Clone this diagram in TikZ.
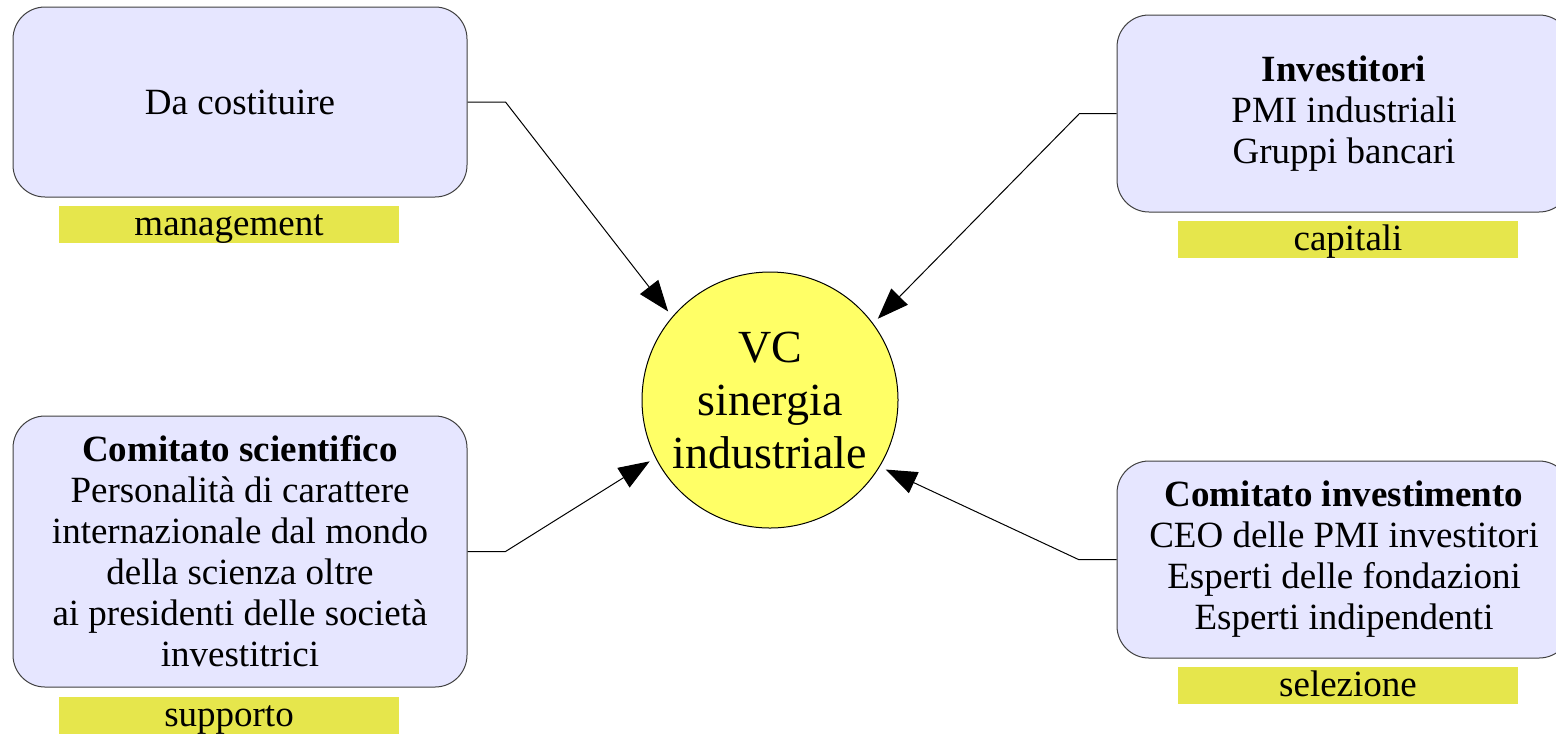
\documentclass[tikz,border=0pt]{standalone}
\usepackage{fontspec}
\setmainfont{Liberation Serif}
\usetikzlibrary{arrows.meta,positioning}
\definecolor{boxfill}{RGB}{230,230,255}
\definecolor{tagfill}{RGB}{230,230,76}
\definecolor{vcfill}{RGB}{255,255,102}
\tikzset{>={Triangle[length=15.5pt,width=11.5pt]}}

\begin{document}
\begin{tikzpicture}[x=0.5pt, y=-0.5pt,
    role/.style={draw=black!75, fill=boxfill, line width=0.5pt, rounded corners=16pt, minimum width=227pt, inner sep=0pt, align=center, font=\fontsize{18.5}{20.5}\selectfont},
    tag/.style={fill=tagfill, minimum width=170pt, text height=15pt, text depth=3.5pt, inner sep=0pt, font=\fontsize{18.5}{20.5}\selectfont},
    link/.style={->, line width=0.5pt}]
    \useasboundingbox (0,0) rectangle (1556,735);
    % centre
    \node[draw, fill=vcfill, circle, line width=0.5pt, minimum size=128pt, inner sep=0pt, outer sep=3.5pt, align=center, font=\fontsize{23}{26.5}\selectfont] (vc) at (770,400) {VC\\sinergia\\industriale};
    % boxes
    \node[role, minimum height=95pt] (management-box) at (240,102) {Da costituire};
    \node[role, minimum height=98.5pt] (capital-box) at (1344,113.5) {\textbf{Investitori}\\PMI industriali\\Gruppi bancari};
    \node[role, minimum height=135.5pt] (support-box) at (240,551.5) {\textbf{Comitato scientifico}\\Personalità di carattere\\internazionale dal mondo\\della scienza oltre\\ai presidenti delle società\\investitrici};
    \node[role, minimum height=98.5pt] (selection-box) at (1344,559.5) {\textbf{Comitato investimento}\\CEO delle PMI investitori\\Esperti delle fondazioni\\Esperti indipendenti};
    % tags
    \node[tag, below=4pt of management-box, xshift=-5.5pt] (management-tag) {management};
    \node[tag, below=4pt of capital-box, xshift=2pt] (capital-tag) {capitali};
    \node[tag, below=4.5pt of support-box, xshift=-5.5pt] (support-tag) {supporto};
    \node[tag, below=4pt of selection-box, xshift=2pt] (selection-tag) {selezione};
    % bends
    \coordinate[right=19pt of management-box.east] (management-bend);
    \coordinate[left=18.5pt of capital-box.west] (capital-bend);
    \coordinate[right=19pt of support-box.east] (support-bend);
    \coordinate[left=19pt of selection-box.west] (selection-bend);
    \draw[link] (management-box.east) -- (management-bend) -- (vc.139);
    \draw[link] (capital-box.west) -- (capital-bend) -- (vc.37.5);
    \draw[link] (support-box.east) -- (support-bend) -- (vc.207);
    \draw[link] (selection-box.west) -- (selection-bend) -- (vc.329);
\end{tikzpicture}
\end{document}
